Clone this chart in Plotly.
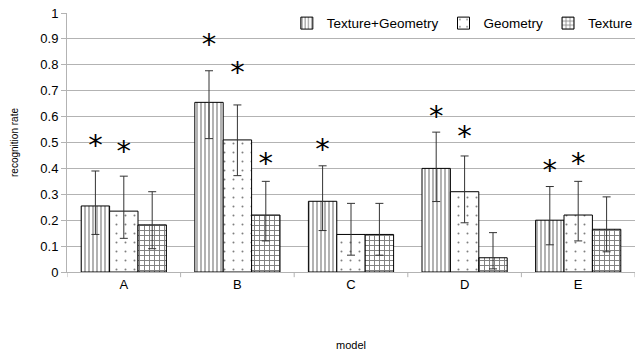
import plotly.graph_objects as go

models = ["A", "B", "C", "D", "E"]
series = ["Texture+Geometry", "Geometry", "Texture"]
values = {
    "Texture+Geometry": [0.255, 0.655, 0.273, 0.400, 0.200],
    "Geometry":         [0.235, 0.510, 0.145, 0.310, 0.220],
    "Texture":          [0.182, 0.220, 0.145, 0.055, 0.165],
}
upper = {
    "Texture+Geometry": [0.390, 0.777, 0.410, 0.540, 0.330],
    "Geometry":         [0.370, 0.645, 0.265, 0.448, 0.350],
    "Texture":          [0.310, 0.350, 0.265, 0.152, 0.290],
}
lower = {
    "Texture+Geometry": [0.145, 0.515, 0.160, 0.272, 0.105],
    "Geometry":         [0.130, 0.372, 0.065, 0.190, 0.120],
    "Texture":          [0.090, 0.120, 0.065, 0.012, 0.078],
}
# significance stars: (model index, series index, y)
stars_model = [0, 0, 1, 1, 1, 2, 3, 3, 4, 4]
stars_series = [0, 1, 0, 1, 2, 0, 0, 1, 0, 1]
stars_y = [0.50, 0.475, 0.89, 0.78, 0.43, 0.485, 0.61, 0.535, 0.405, 0.43]

patterns = {"Texture+Geometry": ("|", 4, 0.3), "Geometry": (".", 9, 0.04), "Texture": ("+", 5, 0.35)}

fig = go.Figure()
xs = list(range(len(models)))
for s in series:
    shape, size, sol = patterns[s]
    v = values[s]
    fig.add_trace(go.Bar(
        name=s, x=xs, y=v,
        marker=dict(color="white", line=dict(color="black", width=1),
                    pattern=dict(shape=shape, size=size, solidity=sol, fgcolor="black", bgcolor="white")),
        error_y=dict(type="data", symmetric=False,
                     array=[u - a for u, a in zip(upper[s], v)],
                     arrayminus=[a - l for a, l in zip(v, lower[s])],
                     color="#333333", thickness=1, width=4),
    ))

bargap = 0.25
bw = (1 - bargap) / len(series)
sx = [m + (si - (len(series) - 1) / 2) * bw for m, si in zip(stars_model, stars_series)]
fig.add_trace(go.Scatter(x=sx, y=[y - 0.02 for y in stars_y], mode="text", text=["*"] * len(sx),
                         textfont=dict(size=29, color="black", family="DejaVu Sans"),
                         showlegend=False, hoverinfo="skip", xaxis="x2"))

fig.update_layout(
    width=640, height=356,
    margin=dict(l=67, r=2, t=13, b=84),
    paper_bgcolor="white", plot_bgcolor="white",
    barmode="group", bargap=bargap, bargroupgap=0,
    font=dict(family="Liberation Sans", color="black", size=13),
    legend=dict(orientation="h", x=1.005, y=1.02, xanchor="right", yanchor="top",
                bgcolor="rgba(0,0,0,0)", font=dict(size=13.5), itemwidth=30, tracegroupgap=0),
    xaxis=dict(range=[-0.5, 4.5], tickvals=xs, ticktext=models, showgrid=False,
               showline=True, linecolor="#b3b3b3", ticks="",
               title=dict(text="model", font=dict(size=11), standoff=50),
               zeroline=False),
    xaxis2=dict(range=[-0.5, 4.5], overlaying="x", visible=False),
    yaxis=dict(range=[0, 1], dtick=0.1, tickformat="~g", showgrid=True, gridcolor="#b3b3b3",
               showline=True, linecolor="#b3b3b3", ticks="outside", ticklen=5, tickcolor="#b3b3b3",
               title=dict(text="recognition rate", font=dict(size=10), standoff=19), zeroline=False),
)
# boundary ticks on the category axis
for b in [i - 0.5 for i in range(len(models) + 1)]:
    fig.add_shape(type="line", xref="x", yref="paper", x0=b, x1=b, y0=0, y1=-0.02,
                  line=dict(color="#b3b3b3", width=1))

fig.write_html("out.html")
